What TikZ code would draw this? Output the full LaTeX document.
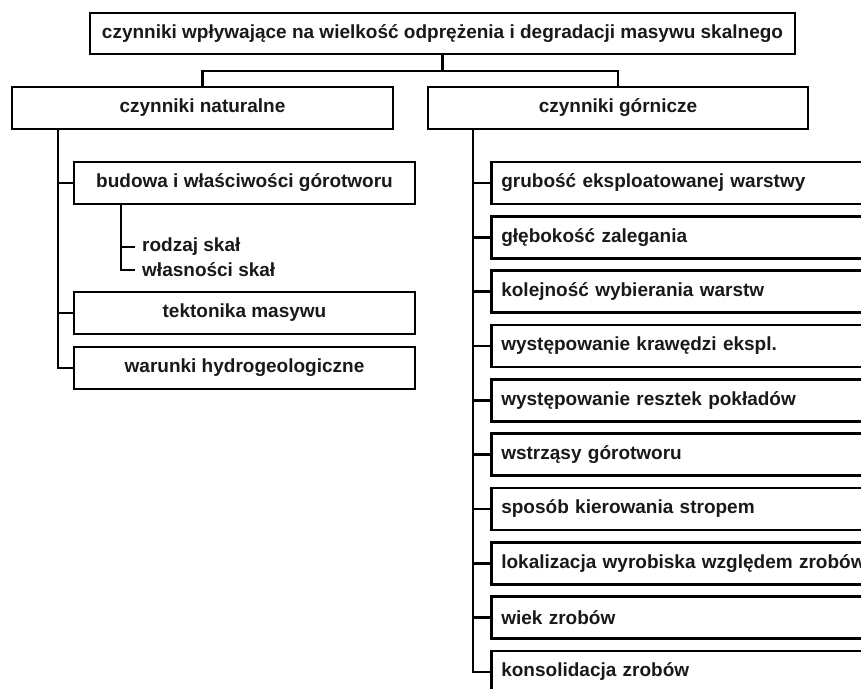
\documentclass[tikz,border=0pt]{standalone}
\usepackage{fontspec}
\setmainfont{Liberation Sans}
\begin{document}
\begin{tikzpicture}[x=1pt,y=-1pt,
  every node/.style={font=\bfseries\fontsize{19}{22}\selectfont, text=black!90},
  cbox/.style={draw, line width=2.6pt, minimum height=42pt, inner sep=0pt},
  lbox/.style={cbox, text width=400pt, inner xsep=10pt, align=left},
  conn/.style={line width=2.6pt}]
\useasboundingbox (0,0) rectangle (861,688);
\clip (0,0) rectangle (861,688);
\fill[white] (0,0) rectangle (861,688);
% top
\node[cbox, minimum width=705pt, minimum height=41pt] (top) at (442.5,33.5) {czynniki wpływające na wielkość odprężenia i degradacji masywu skalnego};
\node[cbox, minimum width=381pt] (nat) at (202.5,108) {czynniki naturalne};
\node[cbox, minimum width=380pt] (gor) at (618,108) {czynniki górnicze};
\coordinate (hl) at (202.5,71);
\coordinate (hr) at (618,71);
\draw[conn] (top.south) -- (top.south |- hl);
\draw[conn] (nat.north) -- (hl) -- (hr) -- (gor.north);
% left branch
\node[cbox, minimum width=341pt] (bud) at (244.5,183) {budowa i właściwości górotworu};
\node[cbox, minimum width=341pt] (tek) at (244.5,313) {tektonika masywu};
\node[cbox, minimum width=341pt] (war) at (244.5,368) {warunki hydrogeologiczne};
\coordinate (lt0) at (58,129);
\draw[conn] (lt0) |- (war.west);
\draw[conn] (bud.west) -- (bud.west -| lt0);
\draw[conn] (tek.west) -- (tek.west -| lt0);
\node[anchor=west, inner sep=0pt, inner xsep=7pt] (rodz) at (135,247) {rodzaj skał};
\node[anchor=west, inner sep=0pt, inner xsep=7pt] (wlas) at (135,270) {własności skał};
\coordinate (rs0) at (121,204);
\draw[conn] (rs0) |- (wlas.west);
\draw[conn] (rodz.west) -- (rodz.west -| rs0);
% right branch
\foreach \i/\t in {0/{grubość eksploatowanej warstwy},1/{głębokość zalegania},2/{kolejność wybierania warstw},3/{występowanie krawędzi ekspl.},4/{występowanie resztek pokładów},5/{wstrząsy górotworu},6/{sposób kierowania stropem},7/{lokalizacja wyrobiska względem zrobów},8/{wiek zrobów},9/{konsolidacja zrobów}}{
  \node[lbox, anchor=west] (r\i) at (490,183+54.33*\i) {\t};
}
\coordinate (rt0) at (473,129);
\draw[conn] (rt0) |- (r9.west);
\foreach \i in {0,...,8}{
  \draw[conn] (r\i.west) -- (r\i.west -| rt0);
}
\end{tikzpicture}
\end{document}
